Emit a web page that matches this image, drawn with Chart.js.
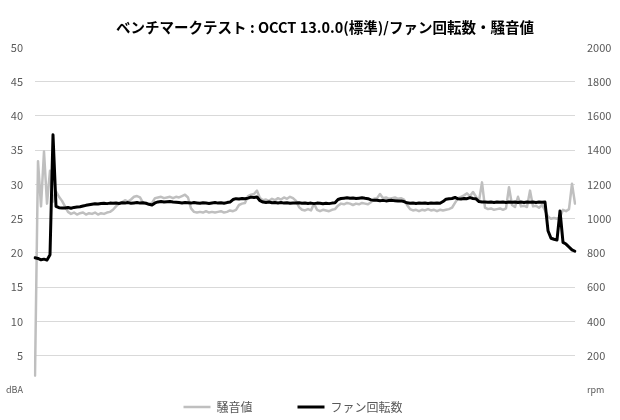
<!DOCTYPE html>
<html><head><meta charset="utf-8">
<script src="https://cdn.jsdelivr.net/npm/chart.js@4/dist/chart.umd.min.js"></script>
<style>html,body{margin:0;padding:0;background:#fff}</style>
</head><body>
<canvas id="c" width="620" height="420"></canvas>
<script>
const chartTitle = 'ベンチマークテスト : OCCT 13.0.0(標準)/ファン回転数・騒音値';
const seriesNames = ['騒音値', 'ファン回転数'];
const leftUnit = 'dBA';
const rightUnit = 'rpm';
const leftRange = [0, 50, 5];
const rightRange = [0, 2000, 200];

// 騒音値 (dBA)
const noiseDBA = [
 2.1,33.4,26.8,34.8,27.2,32.0,27.5,29.0,28.2,27.6,
 26.8,26.0,25.7,25.9,25.6,25.8,25.9,25.6,25.8,25.7,
 25.9,25.6,25.8,25.7,25.9,26.0,26.3,26.8,27.2,27.4,
 27.7,27.5,27.8,28.2,28.3,28.1,27.3,27.2,27.1,27.3,
 28.0,28.1,28.2,28.0,28.1,28.2,28.0,28.2,28.1,28.3,
 28.5,28.1,26.5,26.0,25.9,26.0,25.9,26.1,25.9,26.0,
 25.9,26.0,26.1,25.9,26.0,26.2,26.1,26.3,27.0,27.2,
 27.3,28.3,28.5,28.6,29.1,28.0,27.7,27.8,27.6,27.9,
 27.7,28.0,27.8,28.1,27.9,28.2,28.0,27.6,26.7,26.3,
 26.2,26.4,26.2,27.2,26.3,26.1,26.3,26.2,26.1,26.3,
 26.4,26.9,27.2,27.1,27.3,27.2,27.0,27.2,27.1,27.3,
 27.2,27.1,27.4,27.9,28.0,28.6,28.0,28.1,27.9,28.0,
 28.1,27.9,28.0,27.8,27.0,26.4,26.2,26.3,26.1,26.3,
 26.2,26.4,26.2,26.3,26.1,26.3,26.2,26.3,26.4,26.6,
 27.3,28.0,28.2,28.4,28.7,28.3,28.9,28.2,27.6,30.3,
 26.6,26.4,26.5,26.3,26.4,26.5,26.3,26.5,29.6,27.0,
 26.7,28.2,26.8,26.9,26.7,29.1,26.8,26.9,26.6,27.0,
 26.2,25.3,25.0,25.1,25.0,25.2,26.3,26.1,26.4,30.1,
 27.2
];

// ファン回転数 (rpm)
const fanRPM = [
 772,768,760,764,758,790,1490,1072,1064,1063,
 1062,1065,1061,1066,1068,1070,1074,1078,1081,1084,
 1087,1086,1089,1090,1088,1091,1090,1092,1089,1093,
 1091,1094,1090,1092,1094,1091,1093,1090,1084,1080,
 1092,1098,1100,1097,1099,1101,1098,1096,1094,1092,
 1095,1093,1091,1094,1092,1090,1093,1091,1089,1092,
 1094,1091,1093,1090,1094,1097,1112,1117,1115,1118,
 1116,1120,1126,1124,1127,1105,1097,1095,1097,1093,
 1095,1092,1094,1091,1093,1090,1092,1091,1093,1090,
 1092,1089,1091,1088,1091,1090,1087,1090,1088,1091,
 1093,1112,1118,1120,1122,1119,1121,1118,1120,1122,
 1119,1117,1110,1107,1108,1105,1107,1104,1106,1107,
 1105,1103,1104,1100,1093,1090,1092,1089,1091,1090,
 1092,1089,1091,1090,1092,1090,1100,1114,1116,1118,
 1124,1116,1115,1118,1117,1123,1118,1116,1100,1097,
 1098,1096,1097,1095,1098,1096,1097,1095,1098,1096,
 1097,1094,1097,1095,1098,1096,1097,1095,1097,1096,
 1097,930,886,880,876,1045,862,852,835,818,
 810
];

const sampleLabels = noiseDBA.map((_, i) => i);

Chart.defaults.font.family = '"Noto Sans CJK JP", "Noto Sans", sans-serif';
Chart.defaults.color = '#595959';

// The legend uses wide item spacing; keep its row just under the plot.
const boxPlace = {
  id: 'boxPlace',
  afterLayout(chart) {
    const lg = chart.legend;
    if (lg) { lg.top -= 34; lg.left -= 34; }
    const tb = chart.titleBlock;
    if (tb) { tb.left += 15; tb.right += 15; }
  }
};

new Chart(document.getElementById('c'), {
  type: 'line',
  data: {
    labels: sampleLabels,
    datasets: [
      { label: seriesNames[0], data: noiseDBA, yAxisID: 'y', borderColor: '#bfbfbf', backgroundColor: '#bfbfbf',
        borderWidth: 2.5, pointRadius: 0, tension: 0, order: 1, borderJoinStyle: 'round', borderCapStyle: 'round' },
      { label: seriesNames[1], data: fanRPM, yAxisID: 'y1', borderColor: '#000000', backgroundColor: '#000000',
        borderWidth: 3, pointRadius: 0, tension: 0, order: 0, borderJoinStyle: 'round', borderCapStyle: 'round' }
    ]
  },
  options: {
    responsive: false,
    animation: false,
    devicePixelRatio: 1,
    layout: { padding: 0 },
    plugins: {
      title: { display: true, text: chartTitle, color: '#000000',
        font: { size: 14.5, weight: 'bold' }, padding: { top: 19, bottom: 11 } },
      legend: { position: 'bottom', maxHeight: 30,
        labels: { usePointStyle: true, pointStyle: 'line', pointStyleWidth: 27, boxHeight: 12,
          font: { size: 12 }, color: '#595959', padding: 45,
          sort: (a, b) => a.datasetIndex - b.datasetIndex } },
      tooltip: { enabled: false }
    },
    scales: {
      x: { display: false },
      y: {
        position: 'left', min: leftRange[0], max: leftRange[1],
        border: { display: false },
        grid: { drawTicks: false,
          color: c => (c.tick && (c.tick.value === leftRange[0] || c.tick.value === leftRange[1])) ? 'rgba(0,0,0,0)' : '#d9d9d9' },
        ticks: { stepSize: leftRange[2], padding: 12, color: '#595959',
          font: c => (c.tick && c.tick.value === 0) ? { size: 9 } : { size: 11 },
          callback: v => v === 0 ? leftUnit : v },
        afterFit: s => { s.width = 35; }
      },
      y1: {
        position: 'right', min: rightRange[0], max: rightRange[1],
        border: { display: false },
        grid: { display: false, drawTicks: false },
        ticks: { stepSize: rightRange[2], padding: 12, color: '#595959',
          font: c => (c.tick && c.tick.value === 0) ? { size: 9 } : { size: 11 },
          callback: v => v === 0 ? rightUnit : v },
        afterFit: s => { s.width = 45; }
      }
    }
  },
  plugins: [boxPlace]
});
</script>
</body></html>
